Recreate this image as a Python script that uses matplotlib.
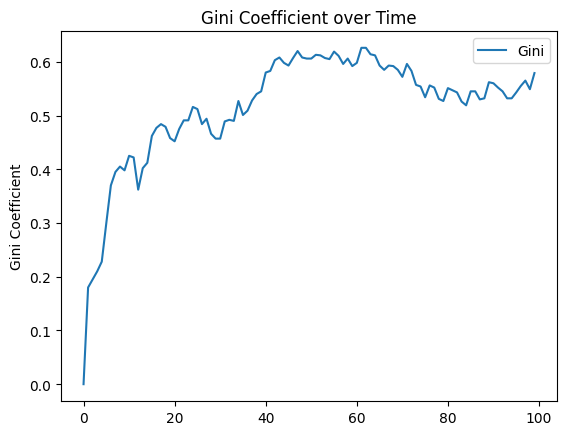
import matplotlib
matplotlib.use("Agg")
import matplotlib.pyplot as plt

gini = [0.0, 0.18, 0.195, 0.21, 0.228, 0.30, 0.37, 0.395, 0.405, 0.398,
        0.425, 0.422, 0.362, 0.402, 0.412, 0.462, 0.477, 0.484, 0.479, 0.458,
        0.452, 0.475, 0.491, 0.491, 0.516, 0.512, 0.484, 0.494, 0.466, 0.457,
        0.457, 0.489, 0.492, 0.490, 0.527, 0.501, 0.509, 0.528, 0.540, 0.545,
        0.580, 0.583, 0.603, 0.608, 0.598, 0.593, 0.607, 0.620, 0.608, 0.606,
        0.606, 0.613, 0.612, 0.607, 0.605, 0.619, 0.611, 0.596, 0.606, 0.592,
        0.598, 0.626, 0.626, 0.614, 0.612, 0.593, 0.585, 0.593, 0.592, 0.585,
        0.572, 0.596, 0.583, 0.557, 0.554, 0.534, 0.556, 0.552, 0.531, 0.527,
        0.551, 0.547, 0.543, 0.526, 0.519, 0.545, 0.545, 0.530, 0.532, 0.562,
        0.560, 0.552, 0.545, 0.532, 0.532, 0.543, 0.555, 0.565, 0.549, 0.579]
steps = list(range(len(gini)))

W, H = 567, 435
fig = plt.figure(figsize=(W / 100, H / 100), dpi=100)
ax = fig.add_axes([61 / W, (H - 402) / H, 496 / W, 370 / H])
ax.plot(steps, gini, label="Gini")
ax.set_title("Gini Coefficient over Time")
ax.set_ylabel("Gini Coefficient")
ax.legend()
fig.savefig("out.png", dpi=100)
